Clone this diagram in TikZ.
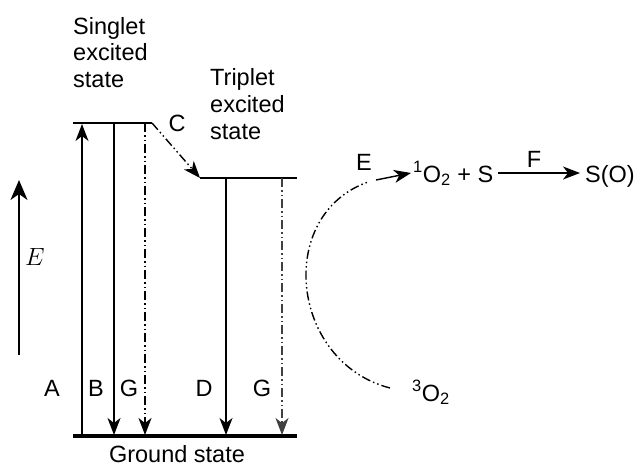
\documentclass[tikz,border=0pt]{standalone}
\usepackage{fontspec}
\setmainfont{Liberation Sans}
\usetikzlibrary{arrows.meta}
\begin{document}
\begin{tikzpicture}[x=1pt,y=-1pt,
  lbl/.style={font=\fontsize{23.5}{27}\selectfont, inner sep=0pt},
  lvl/.style={line width=2.6pt},
  vln/.style={line width=1.4pt},
  arr/.style={-{Stealth[length=17pt,width=13pt,inset=5pt]}},
  bigarr/.style={-{Stealth[length=20pt,width=17pt,inset=6pt]}},
  ddot/.style={dash pattern=on 9pt off 3pt on 1.5pt off 3pt on 1.5pt off 3pt}
]
\useasboundingbox (0,0) rectangle (636,466);

% energy levels
\coordinate (s1) at (73,123);
\coordinate (s2) at (152,123);
\coordinate (t1) at (200,178);
\coordinate (t2) at (297,178);
\coordinate (g1) at (73,436);
\coordinate (g2) at (297,436);
\draw[lvl] (s1) -- (s2);
\draw[lvl] (t1) -- (t2);
\draw[line width=3.4pt] (g1) -- (g2);

% vertical transitions
\coordinate (aB) at (82,436);  \coordinate (aT) at (82,124);
\coordinate (bT) at (114,123); \coordinate (bB) at (114,435);
\coordinate (gT) at (145,123); \coordinate (gB) at (145,435);
\coordinate (dT) at (226,178); \coordinate (dB) at (226,435);
\coordinate (hT) at (282,178); \coordinate (hB) at (282,435);
\draw[vln,arr] (aB) -- (aT);
\draw[vln,arr] (bT) -- (bB);
\draw[vln,arr,ddot] (gT) -- (gB);
\draw[vln,arr] (dT) -- (dB);
\draw[vln,arr,ddot,black!75] (hT) -- (hB);

% intersystem crossing C
\draw[vln,arr,ddot] (s2) -- (t1);
\node[lbl,anchor=base] (C) at (177,131) {C};

% state labels
\node[lbl,anchor=base west] (sl1) at (73,34) {Singlet};
\node[lbl,anchor=base west] (sl2) at (73,60) {excited};
\node[lbl,anchor=base west] (sl3) at (73,87) {state};
\node[lbl,anchor=base west] (tl1) at (210,85) {Triplet};
\node[lbl,anchor=base west] (tl2) at (210,112) {excited};
\node[lbl,anchor=base west] (tl3) at (210,139) {state};
\node[lbl,anchor=base] (gs) at (177,462) {Ground state};

% transition letters
\node[lbl,anchor=base] (lA) at (52,396) {A};
\node[lbl,anchor=base] (lB) at (96,396) {B};
\node[lbl,anchor=base] (lG) at (129,396) {G};
\node[lbl,anchor=base] (lD) at (204,396) {D};
\node[lbl,anchor=base] (lG2) at (262,396) {G};

% energy axis
\coordinate (eB) at (19,355);
\coordinate (eT) at (19,180);
\draw[vln,bigarr] (eB) -- (eT);
\node[inner sep=0pt,anchor=base west,font=\fontsize{29}{34}\selectfont] (Eax) at (25,265) {$E$};

% oxygen cycle
\node[lbl,anchor=base west] (o3) at (412,401) {\textsuperscript{3}O\textsubscript{2}};
\node[lbl,anchor=base west] (o1) at (413,182) {\textsuperscript{1}O\textsubscript{2} + S};
\node[lbl,anchor=base west] (so) at (585,182) {S(O)};
\coordinate (arcS) at (390,388);
\coordinate (arcE) at (368,182);
\coordinate (eaS) at (376,180);
\coordinate (eaE) at (411,173);
\draw[vln,ddot] (arcS) .. controls (290,362) and (275,215) .. (arcE);
\draw[vln,arr] (eaS) -- (eaE);
\node[lbl,anchor=base] (lE) at (364,170) {E};
\coordinate (fS) at (498,173);
\coordinate (fE) at (580,173);
\draw[vln,arr] (fS) -- (fE);
\node[lbl,anchor=base] (lF) at (534,167) {F};
\end{tikzpicture}
\end{document}
